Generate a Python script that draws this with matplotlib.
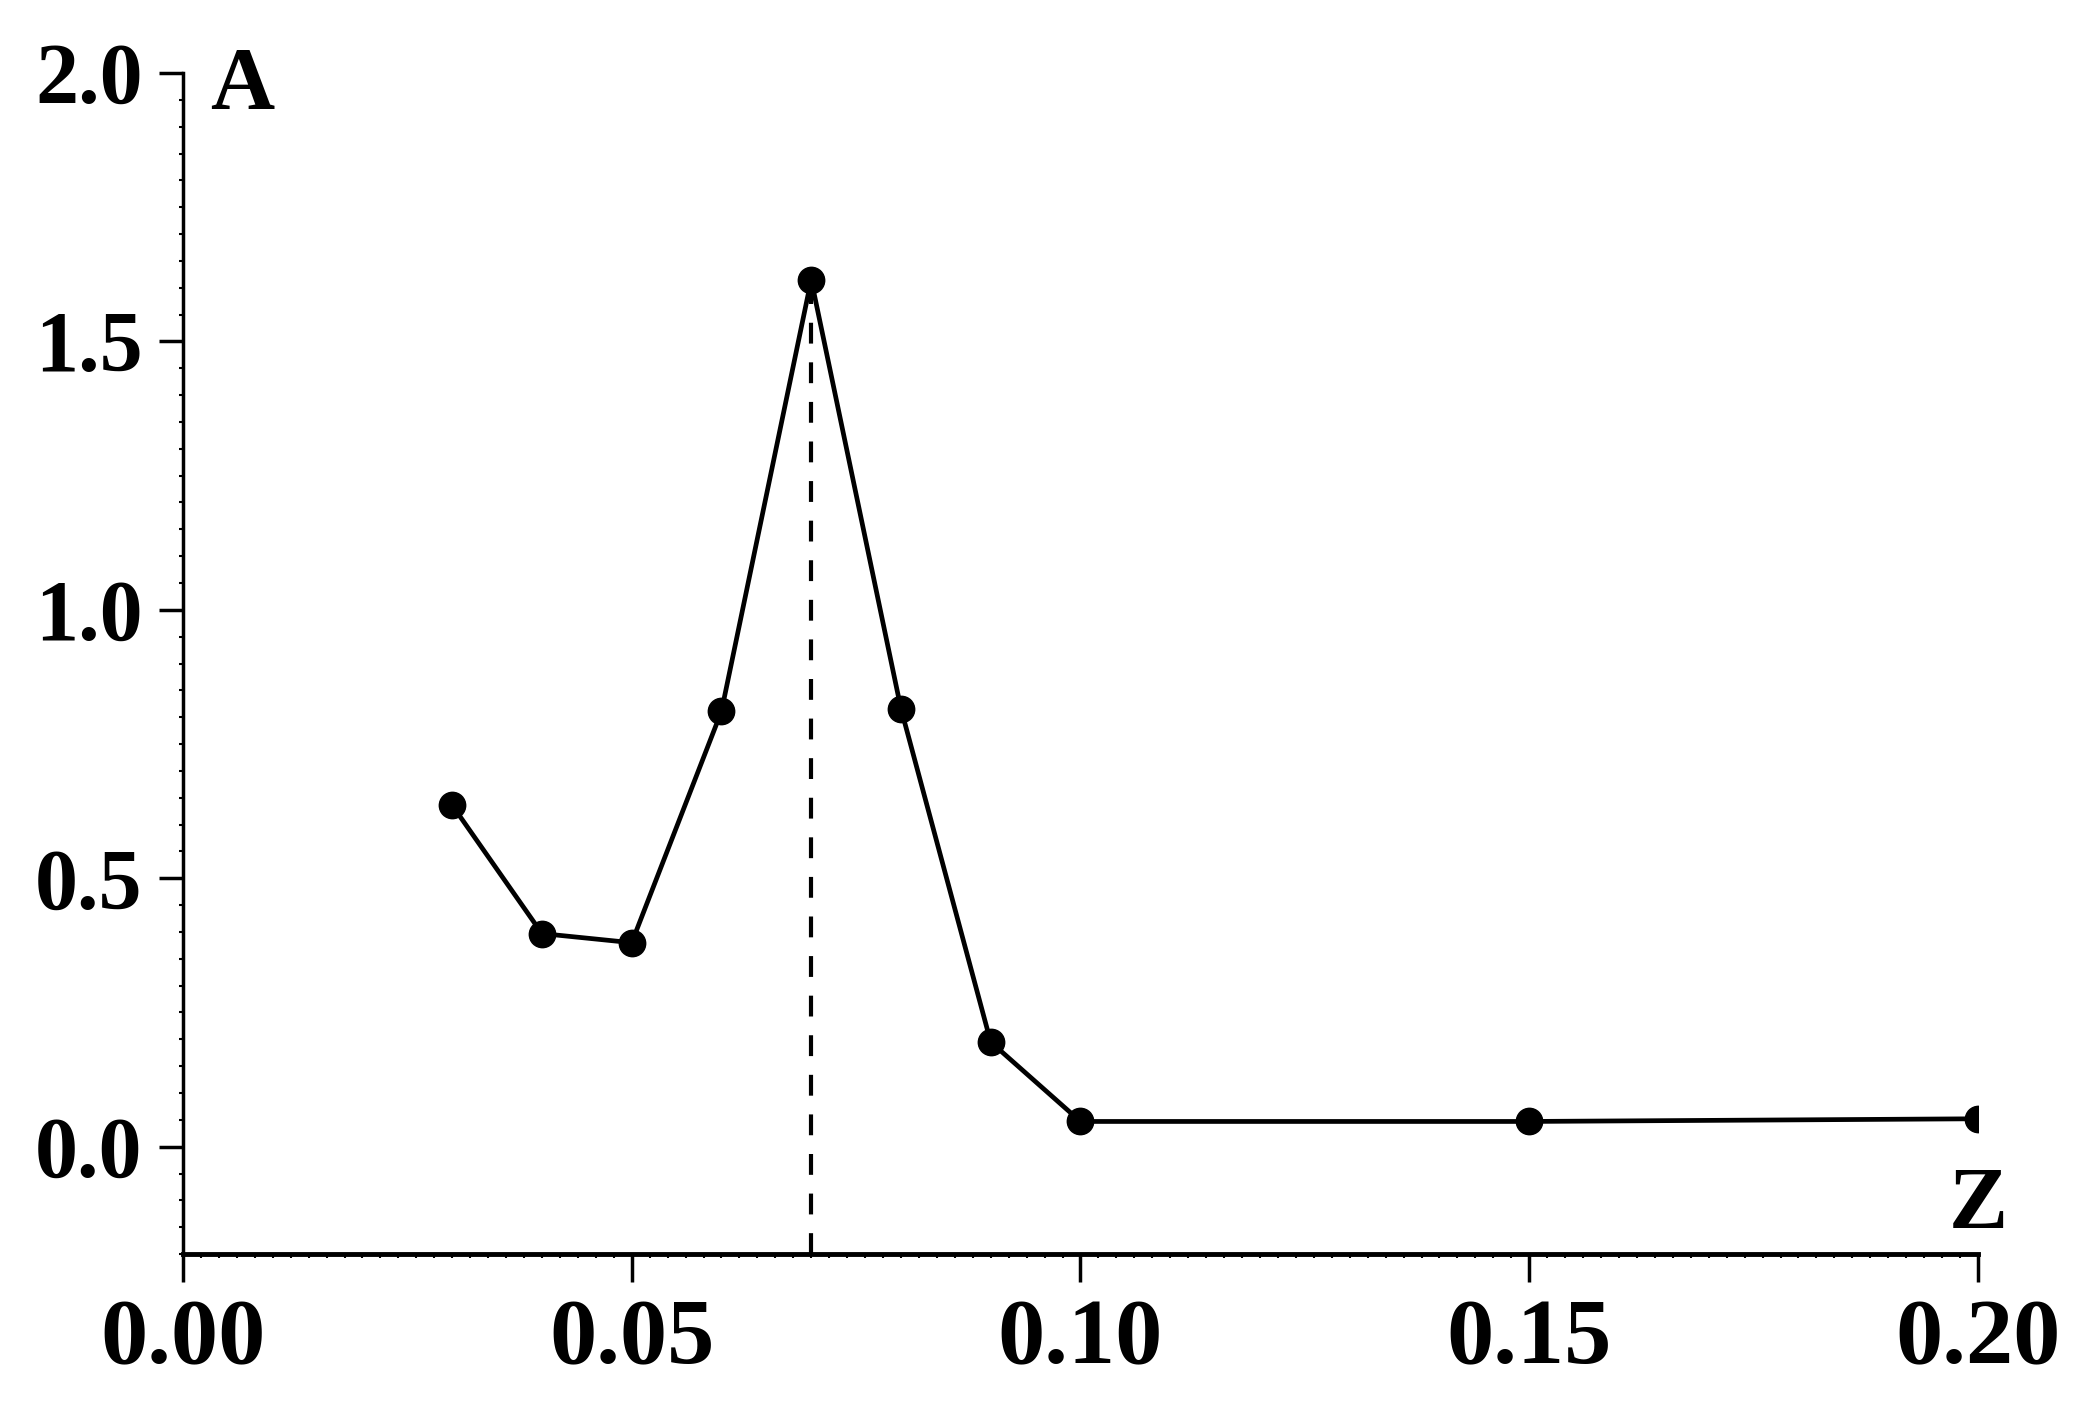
import matplotlib
matplotlib.use("Agg")
import matplotlib.pyplot as plt
from matplotlib.ticker import MultipleLocator, FormatStrFormatter
import numpy as np

# data
z_values = [0.03, 0.04, 0.05, 0.06, 0.07, 0.08, 0.09, 0.10, 0.15, 0.20]
a_values = [0.636, 0.397, 0.380, 0.811, 1.615, 0.816, 0.195, 0.047, 0.047, 0.052]
x_ticks = [0.00, 0.05, 0.10, 0.15, 0.20]
y_ticks = [0.0, 0.5, 1.0, 1.5, 2.0]

FONT = "Liberation Serif"

fig = plt.figure(figsize=(20.79, 14.10), dpi=100)
ax = fig.add_axes([0.0880, 0.1106, 0.8634, 0.8376])

ax.plot(z_values, a_values, color="black", lw=3.4, marker="o",
        markersize=19, markerfacecolor="black", markeredgecolor="black",
        zorder=3)

# dashed drop line under the peak
i_peak = int(np.argmax(a_values))
ax.vlines(z_values[i_peak], -0.2, a_values[i_peak], colors="black",
          linestyles=(0, (5, 4.5)), lw=3.0, zorder=2)

ax.set_xlim(0.0, 0.2)
ax.set_ylim(-0.2, 2.0)
ax.set_xticks(x_ticks)
ax.set_yticks(y_ticks)
ax.xaxis.set_major_formatter(FormatStrFormatter("%.2f"))
ax.yaxis.set_major_formatter(FormatStrFormatter("%.1f"))
ax.xaxis.set_minor_locator(MultipleLocator(0.002))
ax.yaxis.set_minor_locator(MultipleLocator(0.05))

for side in ("top", "right"):
    ax.spines[side].set_visible(False)
ax.spines["left"].set_linewidth(2.5)
ax.spines["bottom"].set_linewidth(3.5)
ax.spines["left"].set_bounds(-0.2, 2.0)

ax.tick_params(axis="x", which="major", direction="out", length=20, width=2.5, pad=12)
ax.tick_params(axis="y", which="major", direction="out", length=17, width=2.5, pad=12)
ax.tick_params(which="minor", direction="out", length=3, width=1.5)

for lab in ax.get_xticklabels():
    lab.set_fontfamily(FONT)
    lab.set_fontweight("bold")
    lab.set_fontsize(68)
for lab in ax.get_yticklabels():
    lab.set_fontfamily(FONT)
    lab.set_fontweight("bold")
    lab.set_fontsize(62)

ax.text(0.003, 1.975, "A", fontfamily=FONT, fontweight="bold", fontsize=64,
        ha="left", va="center")
ax.text(0.2, -0.112, "Z", fontfamily=FONT, fontweight="bold", fontsize=64,
        ha="center", va="center")

fig.savefig("out.png", dpi=100, facecolor="white")
